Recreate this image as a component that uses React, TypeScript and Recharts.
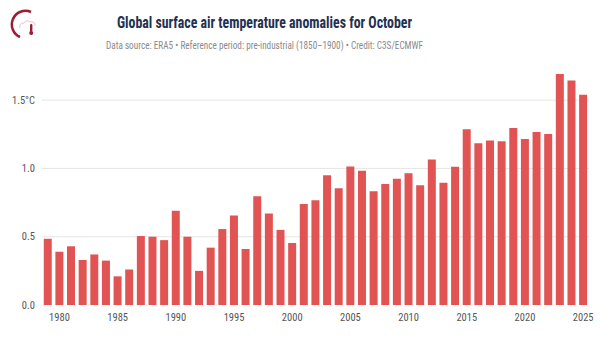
import { BarChart, Bar, XAxis, YAxis, CartesianGrid } from 'recharts';

const years: number[] = [
  1979, 1980, 1981, 1982, 1983, 1984, 1985, 1986, 1987, 1988,
  1989, 1990, 1991, 1992, 1993, 1994, 1995, 1996, 1997, 1998,
  1999, 2000, 2001, 2002, 2003, 2004, 2005, 2006, 2007, 2008,
  2009, 2010, 2011, 2012, 2013, 2014, 2015, 2016, 2017, 2018,
  2019, 2020, 2021, 2022, 2023, 2024, 2025,
];

const anomalies: number[] = [
  0.485, 0.39, 0.43, 0.33, 0.37, 0.325, 0.21, 0.26, 0.505, 0.5,
  0.475, 0.69, 0.5, 0.25, 0.42, 0.556, 0.655, 0.41, 0.796, 0.67,
  0.55, 0.454, 0.74, 0.767, 0.95, 0.854, 1.015, 0.983, 0.833, 0.886,
  0.925, 0.964, 0.876, 1.066, 0.896, 1.012, 1.286, 1.184, 1.204, 1.199,
  1.296, 1.216, 1.267, 1.252, 1.692, 1.643, 1.539,
];

const xTicks: number[] = [1980, 1985, 1990, 1995, 2000, 2005, 2010, 2015, 2020, 2025];
const yTicks: number[] = [0, 0.5, 1, 1.5];
const gridValues: number[] = [0.5, 1, 1.5];

const TITLE = 'Global surface air temperature anomalies for October';
const SUBTITLE =
  'Data source: ERA5 • Reference period: pre-industrial (1850–1900) • Credit: C3S/ECMWF';

const FONT = "'Roboto Condensed', 'Liberation Sans Narrow', 'DejaVu Sans Condensed', Roboto, sans-serif";
const BAR_COLOR = '#e25454';

const data = years.map((year, i) => ({ year, value: anomalies[i] }));

function formatY(v: number): string {
  if (v === 1.5) return '1.5°C';
  return v.toFixed(1);
}

function Logo() {
  return (
    <g>
      <path
        d="M 20 37 A 12 12 0 0 1 31 12"
        fill="none"
        stroke="#9b1c33"
        strokeWidth={2.5}
      />
      <path
        d="M 20 28 q -1 -5 4 -5 q 2 -4 7 -1 q 4 -1 4 4"
        fill="none"
        stroke="#d8b8bf"
        strokeWidth={0.8}
      />
      <rect x={30} y={24} width={2.4} height={8} rx={1.2} fill="#9b1c33" />
      <circle cx={31.2} cy={33} r={2} fill="#9b1c33" />
    </g>
  );
}

export default function App() {
  return (
    <div style={{ position: 'relative', width: 600, height: 338, background: '#fff' }}>
      <style>{'body { margin: 0; }'}</style>
      <svg width={600} height={60} style={{ position: 'absolute', left: 0, top: 0 }}>
        <Logo />
        <text
          x={264.5}
          y={28}
          textAnchor="middle"
          fontFamily={FONT}
          fontWeight={700}
          fontSize={17}
          fill="#233050"
          textLength={295}
          lengthAdjust="spacingAndGlyphs"
        >
          {TITLE}
        </text>
        <text
          x={264.5}
          y={49}
          textAnchor="middle"
          fontFamily={FONT}
          fontSize={11}
          fill="#8a8a8a"
          textLength={317}
          lengthAdjust="spacingAndGlyphs"
        >
          {SUBTITLE}
        </text>
      </svg>
      <div style={{ position: 'absolute', left: 0, top: 0 }}>
        <BarChart
          width={600}
          height={338}
          data={data}
          margin={{ top: 66, right: 11, left: 0, bottom: 0 }}
          barCategoryGap="15%"
        >
          <CartesianGrid
            vertical={false}
            horizontalValues={gridValues}
            stroke="#e6e6e6"
          />
          <XAxis
            dataKey="year"
            ticks={xTicks}
            interval={0}
            height={33}
            tickLine={false}
            axisLine={false}
            tickMargin={3}
            tick={{ fontSize: 10.5, fill: '#555', fontFamily: FONT }}
          />
          <YAxis
            type="number"
            domain={[0, 1.75]}
            ticks={yTicks}
            width={42}
            tickFormatter={formatY}
            tickLine={false}
            axisLine={false}
            tickMargin={1}
            tick={{ fontSize: 10.5, fill: '#555', fontFamily: FONT }}
          />
          <Bar dataKey="value" fill={BAR_COLOR} isAnimationActive={false} />
        </BarChart>
      </div>
    </div>
  );
}
